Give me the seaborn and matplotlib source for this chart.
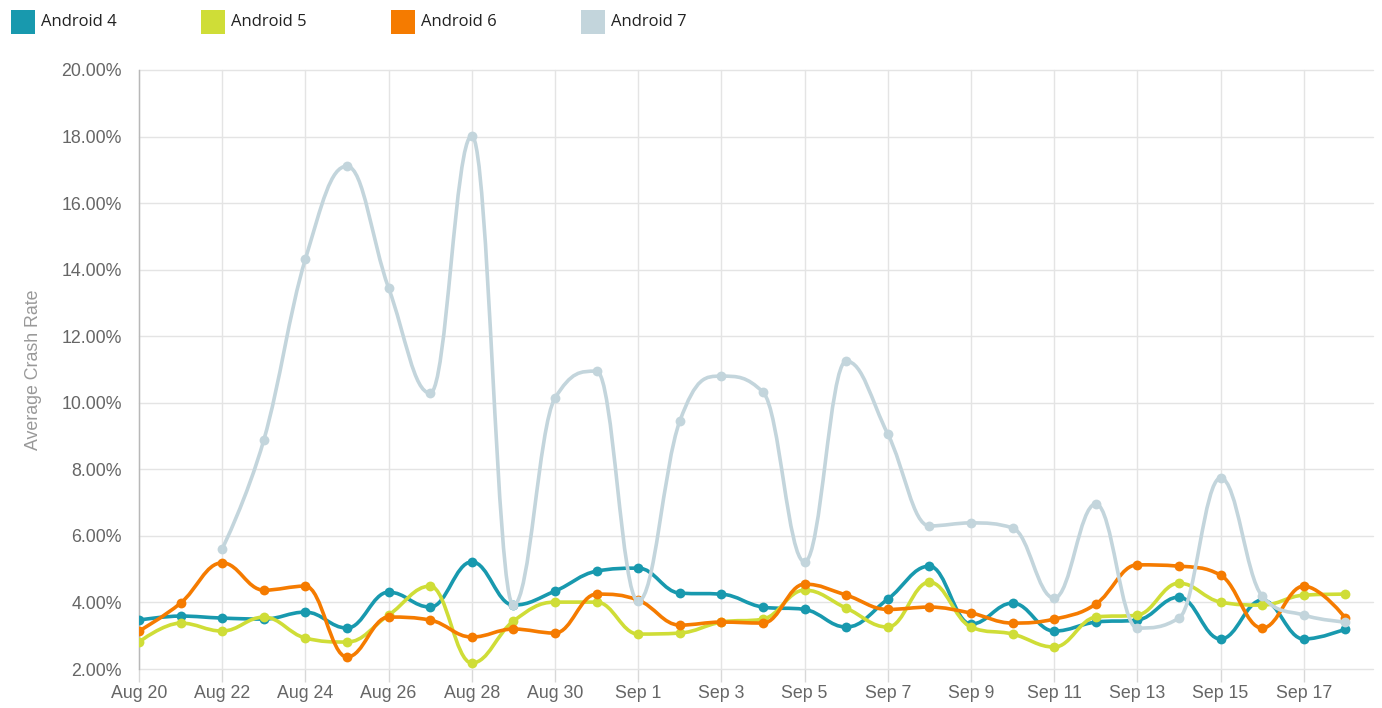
import numpy as np
import pandas as pd
import matplotlib
matplotlib.use('Agg')
import matplotlib.pyplot as plt
from matplotlib.path import Path
from matplotlib.patches import PathPatch, Rectangle
import seaborn as sns

# daily average crash rate (%), Aug 20 .. Sep 18
dates = pd.date_range('2017-08-20', '2017-09-18')
day_labels = [f"{d:%b} {d.day}" for d in dates]

android4 = [3.47, 3.59, 3.53, 3.50, 3.71, 3.23, 4.31, 3.86, 5.22, 3.92,
            4.34, 4.94, 5.03, 4.28, 4.25, 3.86, 3.79, 3.26, 4.10, 5.09,
            3.35, 3.98, 3.14, 3.41, 3.47, 4.16, 2.90, 4.07, 2.90, 3.20]
android5 = [2.81, 3.38, 3.14, 3.56, 2.93, 2.81, 3.62, 4.49, 2.18, 3.44,
            4.01, 4.01, 3.05, 3.08, 3.41, 3.50, 4.37, 3.83, 3.26, 4.61,
            3.26, 3.05, 2.66, 3.56, 3.62, 4.58, 4.01, 3.92, 4.22, 4.25]
android6 = [3.14, 3.98, 5.19, 4.37, 4.49, 2.36, 3.56, 3.47, 2.96, 3.20,
            3.08, 4.25, 4.07, 3.32, 3.41, 3.38, 4.55, 4.22, 3.79, 3.86,
            3.68, 3.38, 3.50, 3.95, 5.13, 5.09, 4.82, 3.23, 4.49, 3.53]
android7 = [np.nan, np.nan, 5.61, 8.88, 14.32, 17.11, 13.45, 10.29, 18.02, 3.92,
            10.14, 10.95, 4.04, 9.45, 10.80, 10.32, 5.22, 11.25, 9.06, 6.30,
            6.39, 6.24, 4.13, 6.96, 3.23, 3.53, 7.74, 4.19, 3.62, 3.41]

series_names = ['Android 4', 'Android 5', 'Android 6', 'Android 7']
series_values = [android4, android5, android6, android7]
colors = ['#1899ae', '#cfdd37', '#f57b00', '#c3d5dc']


def spline_path(xs, ys, smoothing=1.5):
    """Bezier path through the points, same control-point rule as a Highcharts spline."""
    denom = smoothing + 1
    n = len(xs)
    left, right = [None] * n, [None] * n
    for i in range(1, n - 1):
        x, y = xs[i], ys[i]
        lx, ly = xs[i - 1], ys[i - 1]
        nx, ny = xs[i + 1], ys[i + 1]
        lcx, lcy = (smoothing * x + lx) / denom, (smoothing * y + ly) / denom
        rcx, rcy = (smoothing * x + nx) / denom, (smoothing * y + ny) / denom
        if rcx != lcx:
            corr = ((rcy - lcy) * (rcx - x)) / (rcx - lcx) + y - rcy
            lcy += corr
            rcy += corr
        if lcy > ly and lcy > y:
            lcy = max(ly, y); rcy = 2 * y - lcy
        elif lcy < ly and lcy < y:
            lcy = min(ly, y); rcy = 2 * y - lcy
        if rcy > ny and rcy > y:
            rcy = max(ny, y); lcy = 2 * y - rcy
        elif rcy < ny and rcy < y:
            rcy = min(ny, y); lcy = 2 * y - rcy
        left[i], right[i] = (lcx, lcy), (rcx, rcy)
    verts, codes = [(xs[0], ys[0])], [Path.MOVETO]
    for i in range(1, n):
        c1 = right[i - 1] or (xs[i - 1], ys[i - 1])
        c2 = left[i] or (xs[i], ys[i])
        verts += [c1, c2, (xs[i], ys[i])]
        codes += [Path.CURVE4] * 3
    return Path(verts, codes)


sns.set_theme(style="whitegrid")
plt.rcParams['font.family'] = ['Liberation Sans', 'DejaVu Sans']

fig = plt.figure(figsize=(13.82, 7.08), dpi=100)
ax = fig.add_axes([139 / 1382, 1 - 669 / 708, (1373 - 139) / 1382, (669 - 70) / 708])
ax.set_facecolor('white')

x_idx = np.arange(len(dates))
for k, (name, vals, col) in enumerate(zip(series_names, series_values, colors)):
    df = pd.DataFrame({'day': x_idx, 'rate': vals}).dropna()
    path = spline_path(df['day'].tolist(), df['rate'].tolist())
    ax.add_patch(PathPatch(path, facecolor='none', edgecolor=col, lw=2.6,
                           capstyle='round', joinstyle='round', zorder=3 + k * 2))
    sns.scatterplot(data=df, x='day', y='rate', color=col, s=50, linewidth=0,
                    ax=ax, zorder=4 + k * 2, legend=False)

ax.set_xlim(0, (1373 - 139) / 41.6)
ax.set_ylim(2, 20)
ax.set_yticks(np.arange(2, 21, 2))
ax.set_yticklabels([f"{v:.2f}%" for v in np.arange(2, 21, 2)])
ax.set_xticks(x_idx[::2])
ax.set_xticklabels(day_labels[::2])
ax.grid(True, color='#e4e4e4', lw=1)
for gl in ax.get_ygridlines() + ax.get_xgridlines():
    gl.set_clip_on(False)
ax.tick_params(axis='x', length=9.5, width=1, color='#d8d8d8', labelsize=12.8,
               labelcolor='#666666', pad=2, bottom=True)
ax.tick_params(axis='y', length=0, labelsize=12.8, labelcolor='#666666', pad=12.5)
for side in ['top', 'right', 'bottom']:
    ax.spines[side].set_visible(False)
ax.spines['left'].set_color('#b8b8b8')
ax.spines['left'].set_linewidth(1)
ax.set_xlabel('')
ax.set_ylabel('Average Crash Rate', color='#999999', fontsize=12.8, labelpad=14)

# legend across the top
for k, (name, col) in enumerate(zip(series_names, colors)):
    x0 = 11 + k * 190
    fig.add_artist(Rectangle((x0 / 1382, 1 - 34 / 708), 24 / 1382, 24 / 708,
                             transform=fig.transFigure, facecolor=col, edgecolor='none'))
    fig.text((x0 + 30) / 1382, 1 - 22 / 708, name, fontsize=12, color='#222222',
             va='center', ha='left', family=['Open Sans', 'DejaVu Sans'])

fig.savefig('out.png', dpi=100)
